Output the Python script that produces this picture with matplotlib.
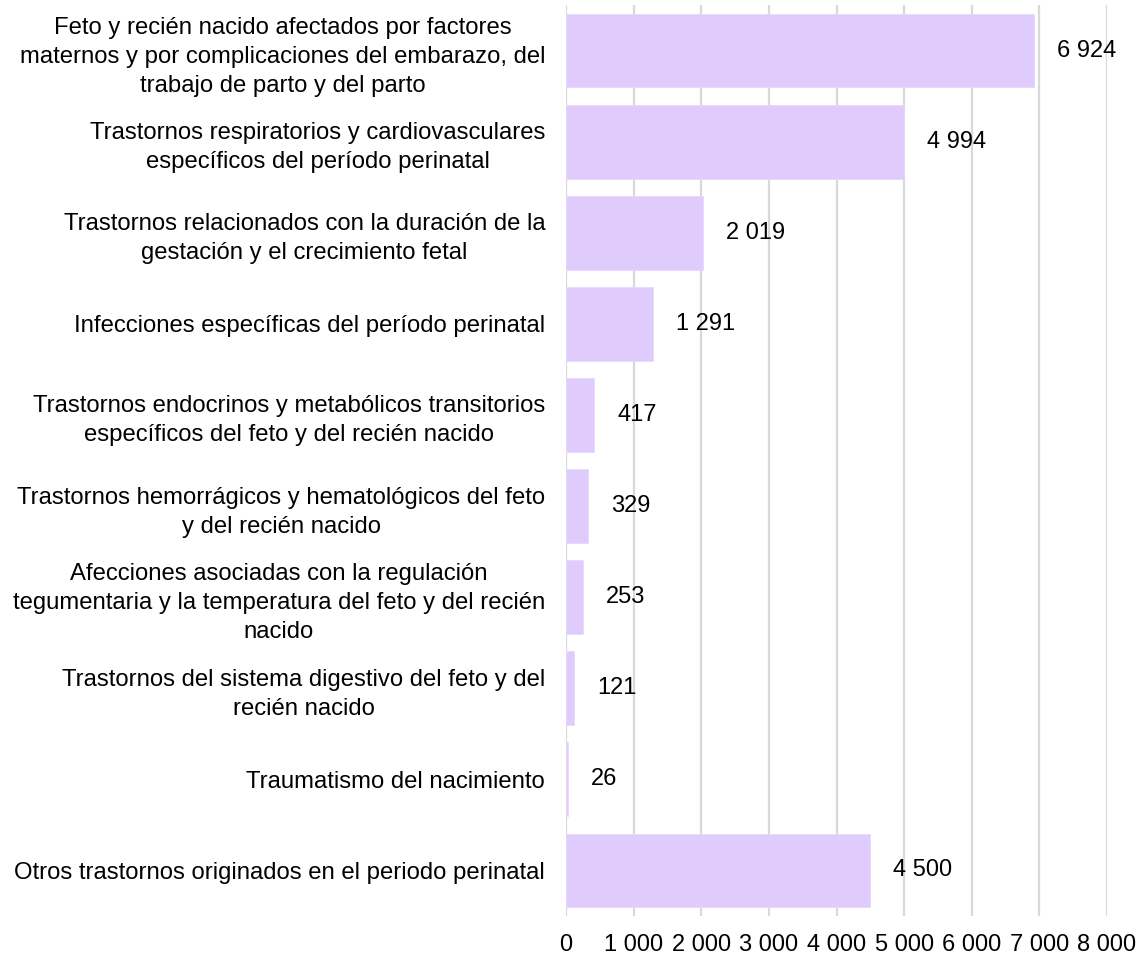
import matplotlib
matplotlib.use("Agg")
import matplotlib.pyplot as plt
from matplotlib.ticker import FuncFormatter

categories = [
    "Feto y recién nacido afectados por factores\nmaternos y por complicaciones del embarazo, del\ntrabajo de parto y del parto",
    "Trastornos respiratorios y cardiovasculares\nespecíficos del período perinatal",
    "Trastornos relacionados con la duración de la\ngestación y el crecimiento fetal",
    "Infecciones específicas del período perinatal",
    "Trastornos endocrinos y metabólicos transitorios\nespecíficos del feto y del recién nacido",
    "Trastornos hemorrágicos y hematológicos del feto\ny del recién nacido",
    "Afecciones asociadas con la regulación\ntegumentaria y la temperatura del feto y del recién\nnacido",
    "Trastornos del sistema digestivo del feto y del\nrecién nacido",
    "Traumatismo del nacimiento",
    "Otros trastornos originados en el periodo perinatal",
]
values = [6924, 4994, 2019, 1291, 417, 329, 253, 121, 26, 4500]
x_ticks = [0, 1000, 2000, 3000, 4000, 5000, 6000, 7000, 8000]

plt.rcParams["font.family"] = ["Liberation Sans", "DejaVu Sans"]

def fmt_thousands(v):
    return f"{int(round(v)):,}".replace(",", " ")

fig = plt.figure(figsize=(11.46, 9.58), dpi=100)
ax = fig.add_axes([566 / 1146, 1 - 916 / 958, (1107 - 566) / 1146, (916 - 5) / 958])

bar_color = "#E0CCFC"
y = list(range(len(values)))
bars = ax.barh(y, values, height=0.81, color=bar_color, edgecolor="#E6D8FC",
               linewidth=0.6, zorder=2)

ax.set_ylim(len(values) - 0.5, -0.5)
ax.set_xlim(0, 8000)
ax.set_xticks(x_ticks)
ax.xaxis.set_major_formatter(FuncFormatter(lambda v, p: fmt_thousands(v)))
ax.set_yticks(y)
ax.set_yticklabels(categories, fontsize=17.2, linespacing=1.41,
                   multialignment="center")

ax.tick_params(axis="x", length=0, pad=13, labelsize=17)
ax.tick_params(axis="y", length=0, pad=15)

ax.grid(axis="x", color="#D9D9D9", linewidth=1.6, zorder=0)
ax.set_axisbelow(True)
for s in ax.spines.values():
    s.set_visible(False)

for rect, v in zip(bars, values):
    ax.annotate(fmt_thousands(v), xy=(v, rect.get_y() + rect.get_height() / 2),
                xytext=(23, 0), textcoords="offset pixels",
                ha="left", va="center", fontsize=17, color="black", zorder=3)

fig.savefig("out.png", dpi=100, facecolor="white")
